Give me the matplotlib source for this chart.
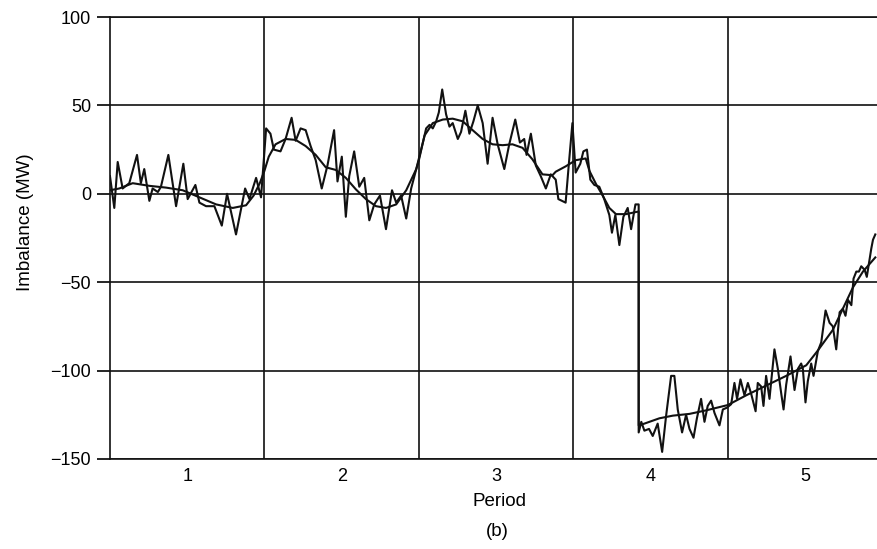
import matplotlib
matplotlib.use("Agg")
import matplotlib.pyplot as plt

# noisy imbalance trace (period, MW)
t_raw = [0.50, 0.528, 0.55, 0.582, 0.625, 0.675, 0.70, 0.722, 0.755, 0.776,
         0.81, 0.83, 0.878, 0.928, 0.975, 1.003, 1.053, 1.079, 1.122, 1.176,
         1.224, 1.258, 1.316, 1.375, 1.403, 1.446, 1.478, 1.511, 1.539, 1.561,
         1.604, 1.637, 1.676, 1.702, 1.734, 1.767, 1.799, 1.832, 1.871, 1.908,
         1.951, 1.973, 2.001, 2.027, 2.049, 2.081, 2.114, 2.146, 2.179, 2.211,
         2.248, 2.287, 2.326, 2.353, 2.385, 2.418, 2.45, 2.483, 2.50, 2.526,
         2.547, 2.569, 2.59, 2.612, 2.629, 2.651, 2.676, 2.698, 2.719, 2.752,
         2.773, 2.801, 2.827, 2.853, 2.881, 2.913, 2.945, 2.977, 3.01, 3.053,
         3.085, 3.124, 3.154, 3.182, 3.197, 3.225, 3.257, 3.289, 3.322, 3.354,
         3.386, 3.403, 3.45, 3.472, 3.494, 3.515, 3.545, 3.565, 3.588, 3.61,
         3.636, 3.668, 3.70, 3.733, 3.75, 3.772, 3.798, 3.824, 3.852, 3.874,
         3.902, 3.923, 3.923, 3.94, 3.96, 3.99, 4.014, 4.046, 4.075, 4.10,
         4.133, 4.154, 4.176, 4.204, 4.23, 4.252, 4.278, 4.30, 4.327, 4.349,
         4.37, 4.392, 4.414, 4.446, 4.468, 4.494, 4.522, 4.543, 4.56, 4.582,
         4.608, 4.63, 4.651, 4.68, 4.694, 4.716, 4.731, 4.748, 4.77, 4.78,
         4.802, 4.824, 4.846, 4.861, 4.878, 4.906, 4.932, 4.954, 4.975, 4.986,
         5.003, 5.018, 5.04, 5.055, 5.083, 5.105, 5.133, 5.159, 5.18, 5.202,
         5.224, 5.245, 5.262, 5.278, 5.30, 5.314, 5.332, 5.349, 5.364, 5.386,
         5.40, 5.418, 5.429, 5.44, 5.455]
imb_raw = [10, -8, 18, 3, 6, 22, 6, 14, -4, 3,
           1, 4, 22, -7, 17, -3, 5, -5, -7, -7,
           -18, 0, -23, 3, -3, 9, -2, 37, 34, 25,
           24, 31, 43, 30, 37, 36, 27, 19, 3, 16,
           36, 7, 21, -13, 10, 24, 4, 9, -15, -6,
           -1, -20, 2, -5, -1, -14, 3, 14, 19, 29,
           37, 39, 37, 41, 46, 59, 45, 38, 40, 31,
           35, 47, 34, 41, 50, 40, 17, 43, 28, 14,
           28, 42, 29, 31, 22, 34, 16, 10, 3, 11,
           8, -3, -5, 18, 40, 12, 17, 24, 25, 8,
           5, 4, -3, -12, -22, -12, -29, -13, -8, -20,
           -6, -6, -135, -129, -134, -133, -137, -130, -146, -126,
           -103, -103, -122, -135, -125, -133, -138, -127, -116, -129,
           -120, -117, -124, -131, -122, -121, -119, -107, -116, -105,
           -114, -107, -113, -123, -107, -109, -120, -103, -116, -107,
           -88, -99, -113, -122, -108, -92, -111, -99, -96, -99,
           -118, -106, -96, -103, -89, -84, -66, -73, -75, -88,
           -67, -65, -69, -60, -63, -48, -44, -44, -41, -43,
           -47, -37, -31, -26, -23]

# smoothed trace
t_smooth = [0.50, 0.56, 0.647, 0.755, 0.863, 0.971, 1.079, 1.187, 1.295, 1.381,
            1.43, 1.47, 1.50, 1.528, 1.572, 1.637, 1.702, 1.767, 1.832, 1.897,
            1.962, 2.027, 2.092, 2.157, 2.222, 2.287, 2.353, 2.418, 2.483, 2.537,
            2.59, 2.655, 2.719, 2.784, 2.848, 2.913, 2.977, 3.042, 3.106, 3.171,
            3.235, 3.30, 3.365, 3.386, 3.45, 3.515, 3.58, 3.604, 3.647, 3.69,
            3.733, 3.776, 3.841, 3.923, 3.923, 3.96, 4.057, 4.144, 4.252, 4.36,
            4.50, 4.619, 4.748, 4.878, 5.008, 5.08, 5.18, 5.245, 5.31, 5.375,
            5.455]
imb_smooth = [2, 3, 6, 4.5, 3.5, 2, -2, -6, -8, -6.5,
              -1, 6, 13, 21, 28, 31, 30.5, 27, 22, 15,
              13.5, 9, 2.5, -3, -7, -8, -6, 2, 14, 33,
              40, 42, 42.5, 41, 36, 31, 28, 27.5, 28, 26,
              19.5, 11, 10.5, 12.5, 15.5, 19, 20, 13, 5.5, -1,
              -8, -11.5, -11.5, -10, -131, -130, -127, -125.5, -124.5, -122.5,
              -119.5, -114, -108.5, -103, -97, -89, -77, -65, -53, -44,
              -36]

periods = [1, 2, 3, 4, 5]
period_edges = [1.5, 2.5, 3.5, 4.5]
y_ticks = [-150, -100, -50, 0, 50, 100]

plt.rcParams["font.family"] = ["Liberation Sans", "DejaVu Sans"]

fig = plt.figure(figsize=(8.77, 5.49), dpi=100)
ax = fig.add_axes([0.1254, 0.164, 0.8746, 0.805])

ax.plot(t_raw, imb_raw, color="#111111", lw=1.5, solid_joinstyle="round")
ax.plot(t_smooth, imb_smooth, color="#111111", lw=1.5, solid_joinstyle="round")

ax.set_xlim(0.5, 5.466)
ax.set_ylim(-150, 100)

ax.set_xticks(periods)
ax.set_xticks(period_edges, minor=True)
ax.set_yticks(y_ticks)
ax.tick_params(axis="x", which="both", length=0, pad=6.5, labelsize=13)
ax.tick_params(axis="y", direction="out", length=9.4, width=1.2, pad=4.3, labelsize=13)

ax.grid(axis="x", which="minor", color="#111111", lw=1.2)
ax.grid(axis="y", which="major", color="#111111", lw=1.2)
ax.set_axisbelow(True)

for side in ["left", "bottom", "top"]:
    ax.spines[side].set_linewidth(1.2)
    ax.spines[side].set_color("#111111")
ax.spines["right"].set_visible(False)

fig.text(25 / 877, 1 - 222 / 549, "Imbalance (MW)", rotation=90,
         ha="center", va="center", fontsize=13.5)
fig.text(499 / 877, 1 - 502 / 549, "Period", ha="center", va="center", fontsize=13.5)
fig.text(497 / 877, 1 - 531 / 549, "(b)", ha="center", va="center", fontsize=13.5)

fig.savefig("out.png", dpi=100)
